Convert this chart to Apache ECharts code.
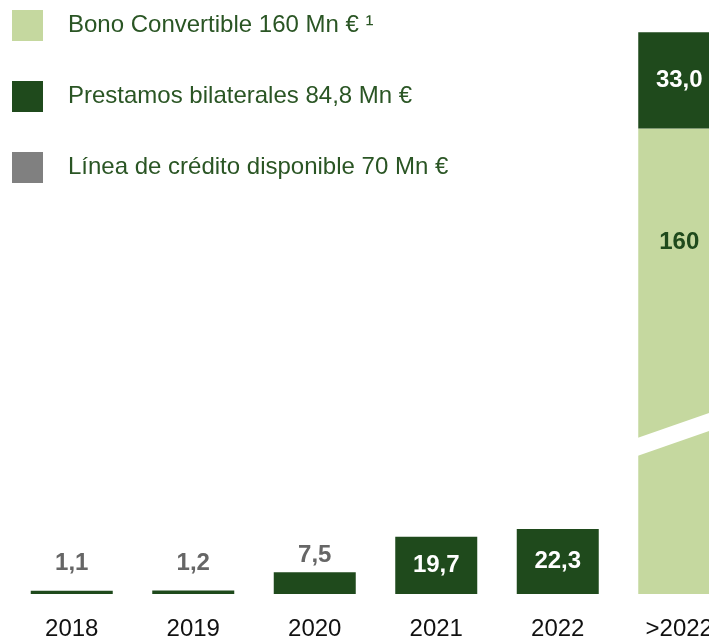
<!DOCTYPE html>
<html><head><meta charset="utf-8">
<script src="https://cdn.jsdelivr.net/npm/echarts@6/dist/echarts.min.js"></script>
<style>html,body{margin:0;padding:0;background:#fff;overflow:hidden}#c{width:740px;height:642px}</style>
</head><body><div id="c"></div>
<script>
// ---- data ----
const categories = ['2018', '2019', '2020', '2021', '2022', '>2022'];
const bonoValues = [null, null, null, null, null, 160];
const prestamosValues = [1.1, 1.2, 7.5, 19.7, 22.3, 33.0];
const lineaValues = [];
const prestamosLabels = ['1,1', '1,2', '7,5', '19,7', '22,3', '33,0'];
const bonoLabels = ['', '', '', '', '', '160'];
const seriesNames = ['Bono Convertible 160 Mn € ¹', 'Prestamos bilaterales 84,8 Mn €', 'Línea de crédito disponible 70 Mn €'];

// ---- styling ----
const FONT = "'Liberation Sans','Arial',sans-serif";
const LIGHT = '#c5d89f';
const DARK = '#1f4a1c';
const GREY = '#808080';
const breakMarkValue = 50.5; // value where the decorative break band crosses the bar's left edge

const chart = echarts.init(document.getElementById('c'), null, { renderer: 'canvas' });

const prestamosData = prestamosValues.map((v, i) => {
  const small = v < 10;
  return {
    value: v,
    label: {
      show: true,
      formatter: prestamosLabels[i],
      position: small ? 'top' : 'inside',
      distance: v < 5 ? 15 : 5,
      color: small ? '#666666' : '#ffffff'
    }
  };
});
const bonoData = bonoValues.map((v, i) => ({
  value: v,
  label: { show: !!bonoLabels[i], formatter: bonoLabels[i] }
}));

chart.setOption({
  animation: false,
  backgroundColor: '#ffffff',
  legend: {
    orient: 'vertical',
    left: 12,
    top: 10,
    padding: 0,
    itemWidth: 31,
    itemHeight: 31,
    itemGap: 40,
    icon: 'rect',
    textStyle: { fontFamily: FONT, fontSize: 24, color: '#2a5524', padding: [0, 0, 0, 20] },
    data: seriesNames
  },
  grid: { left: 11, right: 0, top: 12, bottom: 48, containLabel: false },
  xAxis: {
    type: 'category',
    data: categories,
    axisLine: { show: false },
    axisTick: { show: false },
    axisLabel: { interval: 0, hideOverlap: false, fontFamily: FONT, fontSize: 24, color: '#111111', margin: 23 }
  },
  yAxis: { type: 'value', min: 0, max: 200, show: false, splitLine: { show: false } },
  series: [
    {
      name: seriesNames[0], type: 'bar', stack: 'a', barWidth: 82,
      itemStyle: { color: LIGHT },
      labelLayout: { hideOverlap: false },
      label: { position: 'insideTop', distance: 102, color: DARK, fontFamily: FONT, fontSize: 24, fontWeight: 'bold' },
      data: bonoData
    },
    {
      name: seriesNames[1], type: 'bar', stack: 'a', barWidth: 82,
      itemStyle: { color: DARK },
      label: { fontFamily: FONT, fontSize: 24, fontWeight: 'bold' },
      data: prestamosData
    },
    {
      name: seriesNames[2], type: 'bar', stack: 'a', barWidth: 82,
      itemStyle: { color: GREY },
      data: lineaValues
    }
  ]
});

// decorative diagonal "break" band across the >2022 bar
const p = chart.convertToPixel({ gridIndex: 0 }, [categories.length - 1, breakMarkValue]);
const half = 41, thick = 9, slope = 25 / 70;
const xl = p[0] - half, xr = p[0] + half, yl = p[1];
const yr = yl - slope * (xr - xl);
chart.setOption({
  graphic: [{
    type: 'polygon', z: 100,
    shape: { points: [[xl - 1, yl - thick], [xr + 1, yr - thick], [xr + 1, yr + thick], [xl - 1, yl + thick]] },
    style: { fill: '#ffffff' }
  }]
});
</script>
</body></html>
